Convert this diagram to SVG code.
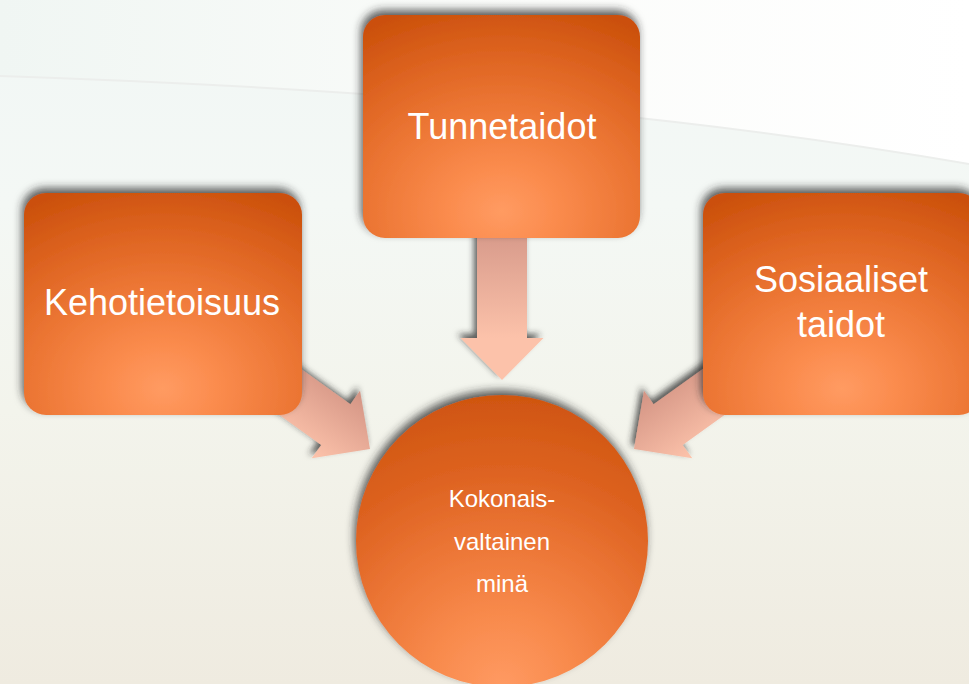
<svg xmlns="http://www.w3.org/2000/svg" width="969" height="684" viewBox="0 0 969 684">
  <defs>
    <linearGradient id="bg" x1="0" y1="0" x2="0" y2="1">
      <stop offset="0" stop-color="#f1f7f5"/>
      <stop offset="0.3" stop-color="#f4f8f5"/>
      <stop offset="0.6" stop-color="#f3f4ec"/>
      <stop offset="1" stop-color="#efebe0"/>
    </linearGradient>
    <linearGradient id="bgTop" x1="0" y1="0" x2="1" y2="0">
      <stop offset="0" stop-color="#f0f6f3"/>
      <stop offset="0.55" stop-color="#fbfcfa"/>
      <stop offset="1" stop-color="#ffffff"/>
    </linearGradient>
    <radialGradient id="boxFill" cx="0.5" cy="0.88" r="0.95" fx="0.5" fy="0.88">
      <stop offset="0" stop-color="#ff9b62"/>
      <stop offset="0.2" stop-color="#fb8c4e"/>
      <stop offset="0.5" stop-color="#ec7634"/>
      <stop offset="0.75" stop-color="#dd6320"/>
      <stop offset="1" stop-color="#cb500b"/>
    </radialGradient>
    <radialGradient id="circleFill" cx="0.5" cy="1" r="1" fx="0.5" fy="1">
      <stop offset="0" stop-color="#ff9a62"/>
      <stop offset="0.25" stop-color="#f88a4c"/>
      <stop offset="0.5" stop-color="#ec7636"/>
      <stop offset="0.75" stop-color="#dd6220"/>
      <stop offset="1" stop-color="#cf5510"/>
    </radialGradient>
    <linearGradient id="arrowTop" gradientUnits="userSpaceOnUse" x1="-142" y1="0" x2="-42" y2="0">
      <stop offset="0" stop-color="#d99c8c"/>
      <stop offset="1" stop-color="#fcc2aa"/>
    </linearGradient>
    <linearGradient id="arrowSide" gradientUnits="userSpaceOnUse" x1="0" y1="-41" x2="0" y2="41">
      <stop offset="0" stop-color="#d39484"/>
      <stop offset="1" stop-color="#fdc3ab"/>
    </linearGradient>
    <polygon id="arrowShape" points="-175,-25 -42,-25 -42,-41.5 0,0 -42,41.5 -42,25 -175,25"/>
    <filter id="shadow" x="-20%" y="-20%" width="140%" height="140%">
      <feDropShadow dx="-2" dy="-5" stdDeviation="4" flood-color="#2a2a2a" flood-opacity="0.75"/>
    </filter>
    <filter id="arrowShadow" x="-20%" y="-20%" width="140%" height="140%">
      <feDropShadow dx="-3" dy="-4" stdDeviation="3" flood-color="#2a2a2a" flood-opacity="0.75"/>
    </filter>
  </defs>
  <style>
    .box { fill: url(#boxFill); }
    .lbl { fill: #ffffff; font-family: "Liberation Sans", Arial, sans-serif; text-anchor: middle; }
    .big { font-size: 36px; }
    .small { font-size: 24px; }
  </style>

  <!-- background -->
  <rect x="0" y="0" width="969" height="684" fill="url(#bg)"/>
  <path d="M0,0 L969,0 L969,164 C760,128 480,92 0,76 Z" fill="url(#bgTop)"/>
  <path d="M0,76 C480,92 760,128 969,164" fill="none" stroke="#eceeec" stroke-width="2"/>

  <g id="connectors">
    <g filter="url(#arrowShadow)">
      <use href="#arrowShape" transform="translate(502,380) rotate(90)" fill="url(#arrowTop)"/>
    </g>
    <g filter="url(#arrowShadow)">
      <use href="#arrowShape" transform="translate(370,449) rotate(35.6)" fill="url(#arrowSide)"/>
    </g>
    <g filter="url(#arrowShadow)">
      <g transform="translate(1004,0) scale(-1,1)">
        <use href="#arrowShape" transform="translate(370,449) rotate(35.6)" fill="url(#arrowSide)"/>
      </g>
    </g>
  </g>

  <g id="node-tunnetaidot">
    <rect class="box" x="363" y="15" width="277" height="223" rx="22" filter="url(#shadow)"/>
    <text class="lbl big" x="502" y="139">Tunnetaidot</text>
  </g>

  <g id="node-kehotietoisuus">
    <rect class="box" x="24" y="193" width="278" height="222" rx="22" filter="url(#shadow)"/>
    <text class="lbl big" x="162" y="315">Kehotietoisuus</text>
  </g>

  <g id="node-sosiaaliset">
    <rect class="box" x="703" y="193" width="278" height="222" rx="22" filter="url(#shadow)"/>
    <text class="lbl big" x="841" y="292">Sosiaaliset</text>
    <text class="lbl big" x="841" y="337">taidot</text>
  </g>

  <g id="node-kokonaisvaltainen">
    <circle cx="502" cy="541" r="146" fill="url(#circleFill)" filter="url(#shadow)"/>
    <text class="lbl small" x="502" y="507">Kokonais-</text>
    <text class="lbl small" x="502" y="550">valtainen</text>
    <text class="lbl small" x="502" y="592">minä</text>
  </g>
</svg>
